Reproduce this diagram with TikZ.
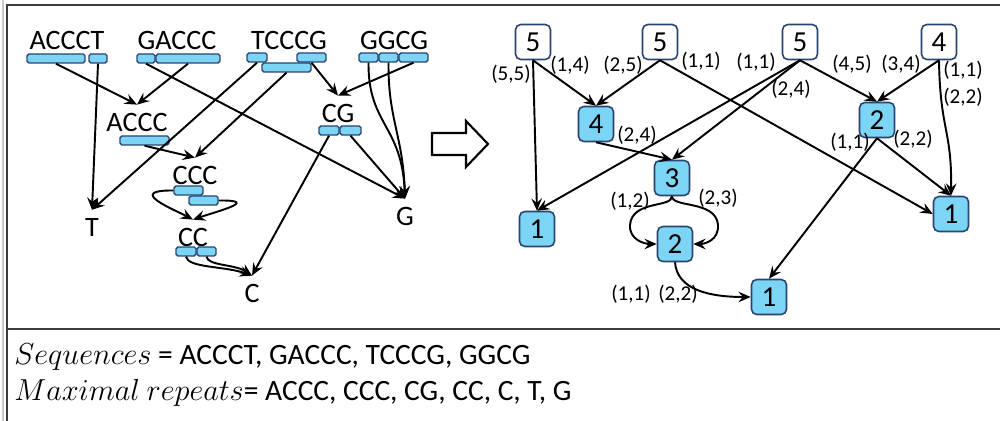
\documentclass[tikz,border=0pt]{standalone}
\usepackage{fontspec}
\setmainfont{Carlito}
\usepackage{tikz}
\usetikzlibrary{arrows.meta}
\definecolor{barfill}{RGB}{125,213,245}
\definecolor{barline}{RGB}{42,68,112}
\definecolor{frameline}{RGB}{60,60,60}

\begin{document}
\begin{tikzpicture}[x=0.02cm, y=-0.02cm,
  arr/.style={line width=1.1pt, -{Stealth[length=7pt, width=6pt, inset=2.5pt]}},
  bar/.style={draw=barline, fill=barfill, line width=0.8pt, rounded corners=1pt, minimum height=0.18cm, inner sep=0pt},
  seq/.style={anchor=base, inner sep=5pt, font=\fontsize{16}{19}\selectfont},
  num/.style={draw=barline, fill=white, line width=0.9pt, rounded corners=3pt, minimum size=0.7cm, inner sep=0pt, font=\fontsize{16.5}{19}\selectfont},
  rep/.style={num, fill=barfill},
  lbl/.style={inner sep=0pt, font=\fontsize{12}{14}\selectfont},
  txt/.style={anchor=west, inner sep=0pt, font=\fontsize{16.8}{20}\selectfont}]
  \useasboundingbox (0,0) rectangle (1000,421);

  % frame
  \draw[black!20, line width=0.6pt] (3,0) -- (3,421);
  \draw[frameline, line width=1.2pt] (7,421) -- (7,5) -- (1000,5);
  \draw[frameline, line width=1.2pt] (7,329) -- (1000,329);

  % sequences
  \node[seq] (sACCCT) at (67,50) {ACCCT};
  \node[seq] (sGACCC) at (177,50) {GACCC};
  \node[seq] (sTCCCG) at (289,50) {TCCCG};
  \node[seq] (sGGCG) at (394,50) {GGCG};
  \node[bar, minimum width=1.16cm] (a1) at (56,58.5) {};
  \node[bar, minimum width=0.36cm] (a2) at (98,58.5) {};
  \node[bar, minimum width=0.36cm] (g1) at (146,58.5) {};
  \node[bar, minimum width=1.28cm] (g2) at (188,58.5) {};
  \node[bar, minimum width=0.40cm] (t1) at (257,57.5) {};
  \node[bar, minimum width=0.98cm] (t2) at (286.5,67.5) {};
  \node[bar, minimum width=0.58cm] (t3) at (311.5,57.5) {};
  \node[bar, minimum width=0.38cm] (q1) at (368.5,57.5) {};
  \node[bar, minimum width=0.38cm] (q2) at (388.5,57.5) {};
  \node[bar, minimum width=0.58cm] (q3) at (413.5,57.5) {};

  % maximal repeats
  \node[seq] (mACCC) at (137,132) {ACCC};
  \node[bar, minimum width=0.98cm] (m1) at (144.5,140.5) {};
  \node[seq] (mCG) at (338,123) {CG};
  \node[bar, minimum width=0.40cm] (c1) at (329,130.5) {};
  \node[bar, minimum width=0.42cm] (c2) at (350.5,130.5) {};
  \node[seq] (mCCC) at (195,185) {CCC};
  \node[bar, minimum width=0.58cm] (r1) at (188.5,190.5) {};
  \node[bar, minimum width=0.58cm] (r2) at (203.5,200.5) {};
  \node[seq] (mCC) at (193,247) {CC};
  \node[bar, minimum width=0.40cm] (k1) at (186,251.5) {};
  \node[bar, minimum width=0.38cm] (k2) at (206.5,251.5) {};
  \node[seq] (mT) at (92,237) {T};
  \node[seq] (mC) at (252,303) {C};
  \node[seq] (mG) at (405,226) {G};

  \draw[arr] (a1.south) -- (mACCC.north);
  \draw[arr] (g2.south) -- (mACCC.north);
  \draw[arr] (a2.south) -- (mT.north);
  \draw[arr] (g1.south) -- (mG.north);
  \draw[arr] (t1.south) -- (mT.north);
  \draw[arr] (t2.south) -- (mCCC.north);
  \draw[arr] (m1.south) -- (mCCC.north);
  \draw[arr] (t3.south) -- (mCG.north);
  \draw[arr] (q3.south) -- (mCG.north);
  \draw[arr] (q1.south) .. controls (368,125) and (402,125) .. (mG.north);
  \draw[arr] (q2.south) .. controls (388,120) and (403,135) .. (mG.north);
  \draw[arr] (c1.south) -- (mC.north);
  \draw[arr] (c2.south) -- (mG.north);
  \draw[arr] (r1.west) .. controls (125,190) and (175,210) .. (mCC.north);
  \draw[arr] (r2.east) .. controls (262,200) and (215,212) .. (mCC.north);
  \draw[arr] (k1.south) .. controls (188,268) and (225,266) .. (mC.north);
  \draw[arr] (k2.south) .. controls (208,266) and (235,264) .. (mC.north);

  % block arrow
  \draw[line width=1.2pt] (432,133) -- (466,133) -- (466,121) -- (488,144)
    -- (466,167) -- (466,155) -- (432,155) -- cycle;

  % graph of counts
  \node[num] (rA) at (533,42) {5};
  \node[num] (rB) at (660,42) {5};
  \node[num] (rC) at (800,42) {5};
  \node[num] (rD) at (939,42) {4};
  \node[rep] (rACCC) at (596,124) {4};
  \node[rep] (rCCC) at (672,178) {3};
  \node[rep] (rCG) at (877,120) {2};
  \node[rep] (rT) at (537,229) {1};
  \node[rep] (rCC) at (675,244) {2};
  \node[rep] (rCbot) at (769,297) {1};
  \node[rep] (rG) at (951,214) {1};

  \draw[arr] (rA.south) -- (rACCC.north);
  \draw[arr] (rA.south) -- (rT.north);
  \draw[arr] (rB.south) -- (rACCC.north);
  \draw[arr] (rB.south) -- (rG.west);
  \draw[arr] (rC.south) -- (rT.north);
  \draw[arr] (rC.south) -- (rCCC.north);
  \draw[arr] (rC.south) -- (rCG.north);
  \draw[arr] (rD.south) -- (rCG.north);
  \draw[arr] (rD.south) .. controls (940,130) and (952,130) .. (rG.north);
  \draw[arr] (rACCC.south) -- (rCCC.north);
  \draw[arr] (rCG.south) -- (rCbot.north);
  \draw[arr] (rCG.south) -- (rG.north);
  \draw[arr] (rCCC.south) .. controls (672,208) and (632,200) .. (630,225)
    .. controls (629,240) and (645,244) .. (rCC.west);
  \draw[arr] (rCCC.south) .. controls (672,208) and (716,200) .. (718,225)
    .. controls (719,240) and (705,244) .. (rCC.east);
  \draw[arr] (rCC.south) .. controls (677,290) and (710,297) .. (rCbot.west);

  \node[lbl] (l55) at (511,74) {(5,5)};
  \node[lbl] (l14) at (570,65) {(1,4)};
  \node[lbl] (l25) at (623,65) {(2,5)};
  \node[lbl] (l11b) at (701,61) {(1,1)};
  \node[lbl] (l11c) at (756,62) {(1,1)};
  \node[lbl] (l24c) at (791,89) {(2,4)};
  \node[lbl] (l45) at (852,64) {(4,5)};
  \node[lbl] (l34) at (901,64) {(3,4)};
  \node[lbl] (l11d) at (963,70) {(1,1)};
  \node[lbl] (l22d) at (963,97) {(2,2)};
  \node[lbl] (l24) at (637,135) {(2,4)};
  \node[lbl] (l11g) at (850,142) {(1,1)};
  \node[lbl] (l22g) at (913,139) {(2,2)};
  \node[lbl] (l12) at (630,201) {(1,2)};
  \node[lbl] (l23) at (718,198) {(2,3)};
  \node[lbl] (l11e) at (631,294) {(1,1)};
  \node[lbl] (l22e) at (678,294) {(2,2)};

  % legend
  \node[txt] (seqline) at (14,357) {$Sequences$ = ACCCT, GACCC, TCCCG, GGCG};
  \node[txt] (repline) at (14,393) {$Maximal\ repeats$= ACCC, CCC, CG, CC, C, T, G};
\end{tikzpicture}
\end{document}
